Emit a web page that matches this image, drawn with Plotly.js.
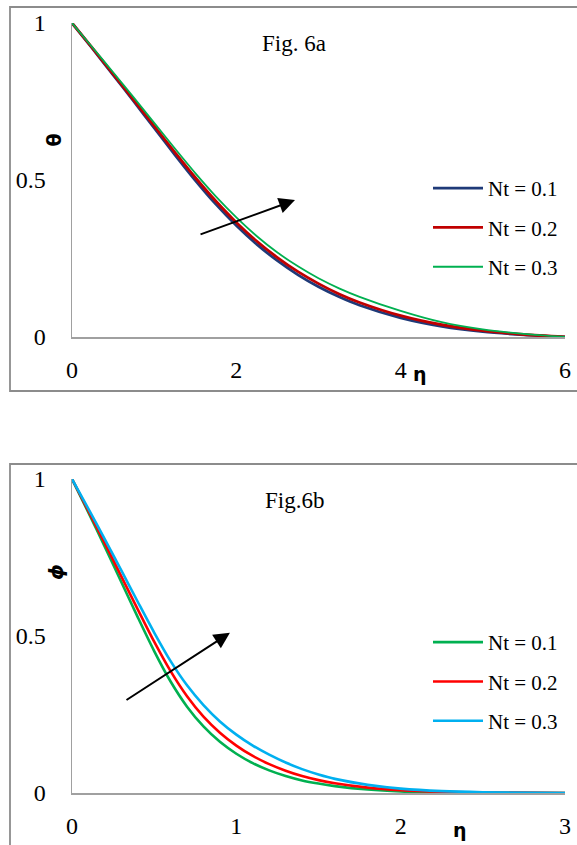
<!DOCTYPE html>
<html>
<head>
<meta charset="utf-8">
<script src="https://cdn.plot.ly/plotly-3.0.1.min.js"></script>
<style>html,body{margin:0;padding:0;background:#fff;}#chart{width:577px;height:845px;}</style>
</head>
<body>
<div id="chart"></div>
<script>
// ---- Fig. 6a : theta vs eta ----
const etaA = [0, 0.25, 0.5, 0.75, 1.0, 1.25, 1.5, 1.75, 2.0, 2.25, 2.5, 2.75, 3.0, 3.25, 3.5, 4.0, 4.5, 5.0, 5.5, 6.0];
const thetaNt01 = [1.0, 0.918, 0.835, 0.751, 0.666, 0.581, 0.499, 0.423, 0.355, 0.295, 0.243, 0.198, 0.160, 0.128, 0.101, 0.061, 0.034, 0.017, 0.007, 0.0];
const thetaNt02 = [1.0, 0.920, 0.838, 0.755, 0.672, 0.589, 0.508, 0.433, 0.365, 0.305, 0.253, 0.208, 0.170, 0.137, 0.110, 0.068, 0.039, 0.020, 0.008, 0.0];
const thetaNt03 = [1.0, 0.922, 0.843, 0.763, 0.682, 0.601, 0.522, 0.448, 0.381, 0.321, 0.269, 0.225, 0.187, 0.155, 0.128, 0.083, 0.047, 0.024, 0.010, 0.0];

// ---- Fig. 6b : phi vs eta ----
const etaB = [0, 0.1, 0.2, 0.3, 0.4, 0.5, 0.6, 0.7, 0.8, 0.9, 1.0, 1.1, 1.2, 1.3, 1.4, 1.5, 1.6, 1.8, 2.0, 2.25, 2.5, 3.0];
const phiNt01 = [1.0, 0.893, 0.784, 0.672, 0.560, 0.452, 0.355, 0.275, 0.212, 0.163, 0.125, 0.095, 0.072, 0.054, 0.040, 0.030, 0.022, 0.011, 0.005, 0.002, 0.0007, 0.0];
const phiNt02 = [1.0, 0.898, 0.795, 0.690, 0.585, 0.482, 0.388, 0.308, 0.243, 0.192, 0.151, 0.118, 0.092, 0.071, 0.054, 0.041, 0.031, 0.017, 0.009, 0.004, 0.0015, 0.0];
const phiNt03 = [1.0, 0.905, 0.808, 0.709, 0.609, 0.511, 0.420, 0.343, 0.280, 0.228, 0.186, 0.151, 0.122, 0.097, 0.076, 0.059, 0.045, 0.026, 0.014, 0.006, 0.0025, 0.0];

const seriesNames = ['Nt = 0.1', 'Nt = 0.2', 'Nt = 0.3'];
const colorsA = ['#1F3A78', '#C00000', '#00B050'];
const colorsB = ['#00B050', '#FF0000', '#00B0F0'];
const tickA = [0, 2, 4, 6];
const tickB = [0, 1, 2, 3];
const tickY = [0, 0.5, 1];
const tickYText = ['0', '0.5', '1'];

const W = 577, H = 845;
const px = v => v / W;
const py = v => 1 - v / H;
const serif = 'Liberation Serif, Times New Roman, serif';

const dataA = [thetaNt01, thetaNt02, thetaNt03];
const dataB = [phiNt01, phiNt02, phiNt03];
const widthsA = [2.8, 2.8, 1.8];

const traces = [];
dataA.forEach((ys, i) => traces.push({
  x: etaA, y: ys, type: 'scatter', mode: 'lines', name: seriesNames[i],
  line: {color: colorsA[i], width: widthsA[i], shape: 'spline', smoothing: 0.8},
  xaxis: 'x', yaxis: 'y', legend: 'legend', legendgroup: 'a' + i
}));
dataB.forEach((ys, i) => traces.push({
  x: etaB, y: ys, type: 'scatter', mode: 'lines', name: seriesNames[i],
  line: {color: colorsB[i], width: 2.6, shape: 'spline', smoothing: 0.8},
  xaxis: 'x2', yaxis: 'y2', legend: 'legend2', legendgroup: 'b' + i
}));

const axisLine = '#A0A0A0';
const baseX = {
  showgrid: false, zeroline: false, showline: true, linecolor: axisLine, linewidth: 1.5,
  ticks: '', tickfont: {family: serif, size: 24, color: '#000'}, ticklabelstandoff: 11,
  tickmode: 'array', fixedrange: true
};
const baseY = {
  showgrid: false, zeroline: false, showline: true, linecolor: axisLine, linewidth: 1.5,
  ticks: '', tickfont: {family: serif, size: 24, color: '#000'}, ticklabelstandoff: 20,
  tickmode: 'array', tickvals: tickY, ticktext: tickYText, range: [0, 1], fixedrange: true
};

const legendBase = {
  font: {family: serif, size: 21, color: '#000'}, bgcolor: 'rgba(0,0,0,0)',
  xanchor: 'left', yanchor: 'top', itemwidth: 50, tracegroupgap: 9, traceorder: 'grouped'
};

const layout = {
  width: W, height: H, margin: {l: 0, r: 0, t: 0, b: 0},
  paper_bgcolor: '#fff', plot_bgcolor: '#fff', showlegend: true,
  xaxis: Object.assign({}, baseX, {domain: [px(72), px(565)], range: [0, 6], tickvals: tickA, anchor: 'y'}),
  yaxis: Object.assign({}, baseY, {domain: [py(337), py(23)], anchor: 'x'}),
  xaxis2: Object.assign({}, baseX, {domain: [px(72), px(565)], range: [0, 3], tickvals: tickB, anchor: 'y2'}),
  yaxis2: Object.assign({}, baseY, {domain: [py(793), py(479)], anchor: 'x2'}),
  legend: Object.assign({}, legendBase, {x: px(428), y: py(168)}),
  legend2: Object.assign({}, legendBase, {x: px(428), y: py(622)}),
  shapes: [
    {type: 'rect', xref: 'paper', yref: 'paper', x0: px(10), x1: px(590), y0: py(391), y1: py(7),
     line: {color: '#8C8C8C', width: 1.8}, fillcolor: 'rgba(0,0,0,0)', layer: 'below'},
    {type: 'rect', xref: 'paper', yref: 'paper', x0: px(10), x1: px(590), y0: py(880), y1: py(464),
     line: {color: '#8C8C8C', width: 1.8}, fillcolor: 'rgba(0,0,0,0)', layer: 'below'}
  ],
  annotations: [
    {text: 'Fig. 6a', xref: 'paper', yref: 'paper', x: px(260), y: py(44), xanchor: 'left', yanchor: 'middle',
     showarrow: false, font: {family: serif, size: 23, color: '#000'}},
    {text: 'Fig.6b', xref: 'paper', yref: 'paper', x: px(263), y: py(500), xanchor: 'left', yanchor: 'middle',
     showarrow: false, font: {family: serif, size: 23, color: '#000'}},
    {text: '<b>θ</b>', xref: 'paper', yref: 'paper', x: px(40), y: py(132), textangle: -90,
     showarrow: false, font: {family: 'DejaVu Sans, sans-serif', size: 19, color: '#000'}},
    {text: '<b>η</b>', xref: 'paper', yref: 'paper', x: px(429), y: py(374),
     showarrow: false, font: {family: 'DejaVu Sans, sans-serif', size: 19, color: '#000'}},
    {text: '<b><i>ϕ</i></b>', xref: 'paper', yref: 'paper', x: px(42), y: py(582), textangle: -90,
     showarrow: false, font: {family: 'DejaVu Sans, sans-serif', size: 20, color: '#000'}},
    {text: '<b>η</b>', xref: 'paper', yref: 'paper', x: px(469), y: py(830), yanchor: 'middle',
     showarrow: false, font: {family: 'DejaVu Sans, sans-serif', size: 19, color: '#000'}},
    {text: '', xref: 'x', yref: 'y', x: 2.714, y: 0.436, axref: 'x', ayref: 'y', ax: 1.546, ay: 0.325,
     showarrow: true, arrowhead: 2, arrowsize: 1.6, arrowwidth: 2, arrowcolor: '#000', standoff: 0},
    {text: '', xref: 'x2', yref: 'y2', x: 0.961, y: 0.51, axref: 'x2', ayref: 'y2', ax: 0.3225, ay: 0.293,
     showarrow: true, arrowhead: 2, arrowsize: 1.6, arrowwidth: 2, arrowcolor: '#000', standoff: 0}
  ]
};

Plotly.newPlot('chart', traces, layout, {staticPlot: true, displayModeBar: false});
</script>
</body>
</html>
